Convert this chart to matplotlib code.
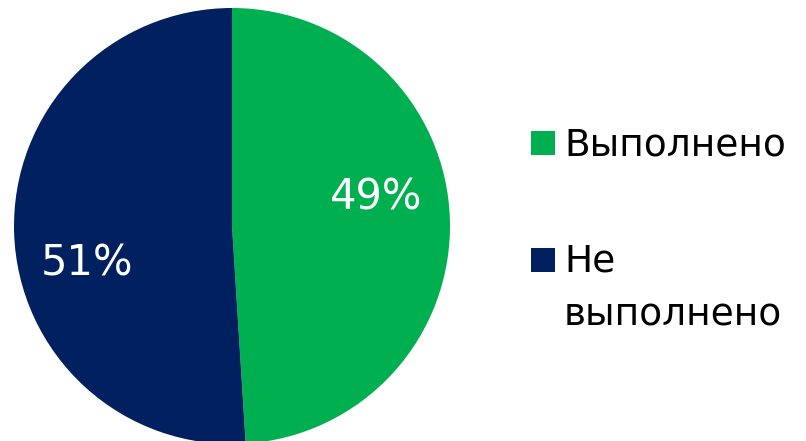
import numpy as np
import matplotlib.pyplot as plt
from matplotlib.patches import Rectangle

labels = ['Выполнено', 'Не\nвыполнено']
shares = [49, 51]
colors = ['#00B050', '#002060']

plt.rcParams['font.family'] = ['DejaVu Sans']

W, H = 806, 441
fig = plt.figure(figsize=(W / 100, H / 100), dpi=100)
# pie area in pixels: centre (232, 226), radius 218
ax = fig.add_axes([14 / W, -3 / H, 436 / W, 436 / H])
wedges, _ = ax.pie(shares, colors=colors, startangle=90, counterclock=False,
                   radius=1.0, wedgeprops=dict(linewidth=0))
ax.set_xlim(-1, 1)
ax.set_ylim(-1, 1)
ax.set_aspect('equal')
ax.axis('off')

# value labels, turned a little off the wedge middle
for w, v in zip(wedges, shares):
    ang = np.deg2rad((w.theta1 + w.theta2) / 2 + 11)
    ax.text(0.68 * np.cos(ang), 0.68 * np.sin(ang), f'{v}%',
            color='white', fontsize=30, ha='center', va='center_baseline')

# legend: square marker + label lines, baselines in pixels
square_tops = [131, 248]
baselines = [155, 271]
pitch = 54
for top, base, lab, c in zip(square_tops, baselines, labels, colors):
    fig.patches.append(Rectangle((531 / W, 1 - (top + 24) / H), 24 / W, 24 / H,
                                 transform=fig.transFigure, facecolor=c,
                                 edgecolor='none'))
    for i, line in enumerate(lab.split('\n')):
        fig.text(564 / W, 1 - (base + i * pitch) / H, line, fontsize=27,
                 va='baseline', ha='left', color='black')

fig.savefig('out.png', dpi=100)
